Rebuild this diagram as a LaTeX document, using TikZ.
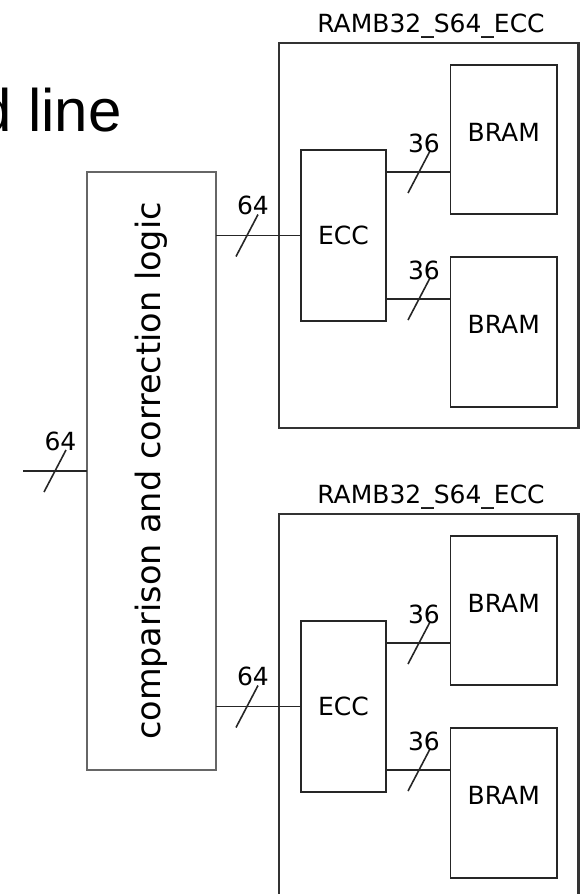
\documentclass[tikz,border=0pt]{standalone}
\usepackage{fontspec}
\setmainfont{DejaVu Sans}
\newfontfamily\headfont{Liberation Sans}
\usetikzlibrary{calc}

\begin{document}
\begin{tikzpicture}[x=1pt, y=-1pt,
  font=\fontsize{25}{30}\selectfont,
  block/.style={draw=black!85, line width=1.8pt, inner sep=0pt, outer sep=0pt},
  ramb/.style={draw=black!80, line width=2.2pt, inner sep=0pt, outer sep=0pt,
    minimum width=299.5pt, minimum height=385pt},
  bram/.style={block, minimum width=106.5pt, minimum height=149.5pt},
  wire/.style={black!85, line width=1.8pt},
  slash/.style={black!85, line width=1.6pt},
  buslbl/.style={anchor=base, inner sep=0pt}]
  \useasboundingbox (0,0) rectangle (584,894);
  % heading, cut off on the left
  \node[anchor=base east, inner sep=0pt, font=\headfont\fontsize{60}{72}\selectfont] (head) at (122,131) {d line};
  % voter
  \node[draw=black!60, line width=1.3pt, inner sep=0pt, outer sep=0pt,
    minimum width=129pt, minimum height=598pt] (cmp) at (151.5,471) {};
  \node[rotate=90, inner sep=0pt, font=\fontsize{33.5}{40}\selectfont] (cmptxt) at (cmp.center) {comparison and correction logic};
  % input bus
  \coordinate (din) at (23,471);
  \draw[wire] (din) -- (cmp.west |- din);
  \draw[slash] ([shift={(21,21)}]din) -- ([shift={(43,-21)}]din);
  \node[buslbl] (win) at ([shift={(37.5,-21)}]din) {64};
  % two memory blocks
  \foreach \m/\dy in {a/0, b/471} {
    \node[ramb] (ramb\m) at (428.75,235.5+\dy) {};
    \node[anchor=base, inner sep=0pt] (name\m) at (431,32+\dy) {RAMB32\_S64\_ECC};
    \node[block, minimum width=85pt, minimum height=171pt] (ecc\m) at (343.5,235.5+\dy) {ECC};
    \node[bram] (bramh\m) at (503.75,139.5+\dy) {};
    \node[bram] (braml\m) at (503.75,332+\dy) {};
    \node[anchor=base, inner sep=0pt] (bramhtxt\m) at ([shift={(0,2)}]bramh\m.center) {BRAM};
    \node[anchor=base, inner sep=0pt] (bramltxt\m) at ([shift={(0,1)}]braml\m.center) {BRAM};
    % 64 bit from voter to ECC
    \coordinate (v\m) at (ecc\m.west -| cmp.east);
    \draw[wire] (v\m) -- (ecc\m.west);
    \draw[slash] ([shift={(20,21)}]v\m) -- ([shift={(42,-21)}]v\m);
    \node[buslbl] (w\m) at ([shift={(37,-21)}]v\m) {64};
    % 36 bit from ECC to BRAMs
    \coordinate (th\m) at ([shift={(0,22)}]ecc\m.north east);
    \coordinate (tl\m) at ([shift={(0,-22)}]ecc\m.south east);
    \draw[wire] (th\m) -- (th\m -| bramh\m.west);
    \draw[wire] (tl\m) -- (tl\m -| braml\m.west);
    \draw[slash] ([shift={(22,21)}]th\m) -- ([shift={(44,-21)}]th\m);
    \draw[slash] ([shift={(22,21)}]tl\m) -- ([shift={(44,-21)}]tl\m);
    \node[buslbl] (wh\m) at ([shift={(38,-20)}]th\m) {36};
    \node[buslbl] (wl\m) at ([shift={(38,-20)}]tl\m) {36};
  }
\end{tikzpicture}
\end{document}
